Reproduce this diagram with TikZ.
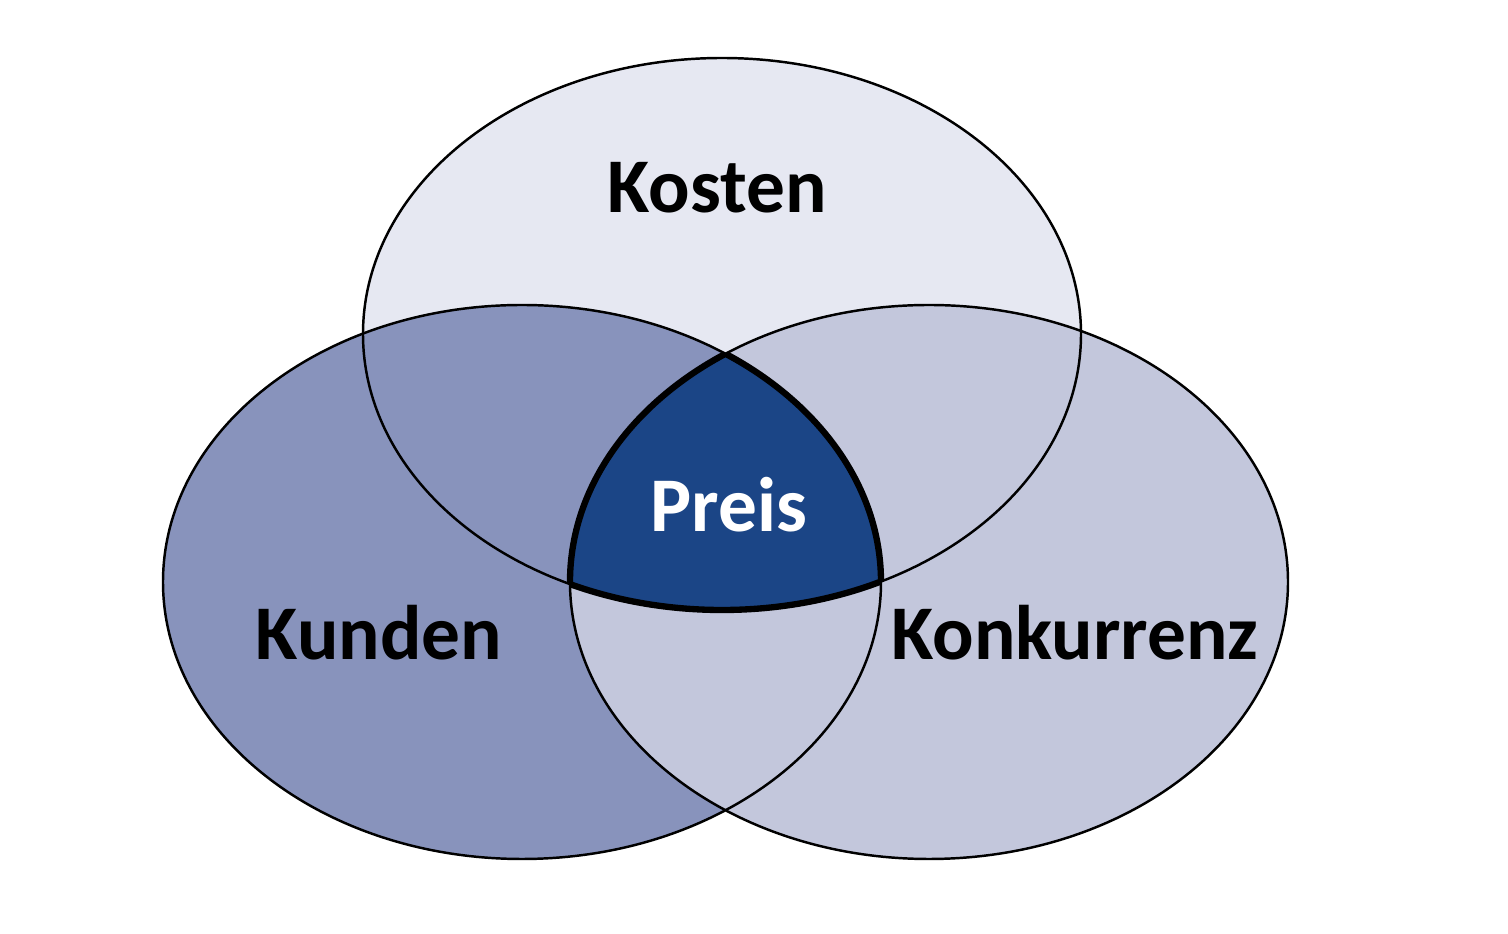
\documentclass[tikz,border=0pt]{standalone}
\usepackage{fontspec}
\setmainfont{Carlito}
\usetikzlibrary{positioning}
\definecolor{kostenfill}{HTML}{E6E8F2}
\definecolor{kundenfill}{HTML}{8893BC}
\definecolor{konkfill}{HTML}{C3C7DC}
\definecolor{preisfill}{HTML}{1B4586}
\begin{document}
\begin{tikzpicture}[x=0.01cm,y=-0.01cm,every node/.style={font=\fontsize{22}{26}\selectfont\bfseries}]
\useasboundingbox (0,0) rectangle (1508,934);
\coordinate (ck) at (722,334);
\coordinate (cl) at (522,582);
\coordinate (cr) at (929,582);
\def\ellK{(ck) ellipse [x radius=359,y radius=276]}
\def\ellL{(cl) ellipse [x radius=359,y radius=277]}
\def\ellR{(cr) ellipse [x radius=359,y radius=277]}
\fill[kostenfill] \ellK;
\fill[kundenfill] \ellL;
\fill[konkfill] \ellR;
\begin{scope}
\clip \ellK; \clip \ellL;
\fill[preisfill] \ellR;
\end{scope}
\draw[line width=.7pt] \ellK;
\draw[line width=.7pt] \ellL;
\draw[line width=.7pt] \ellR;
% bold edge round the middle
\begin{scope}
\clip \ellK; \clip \ellL;
\draw[line width=1.8pt] \ellR;
\end{scope}
\begin{scope}
\clip \ellK; \clip \ellR;
\draw[line width=1.8pt] \ellL;
\end{scope}
\begin{scope}
\clip \ellL; \clip \ellR;
\draw[line width=1.8pt] \ellK;
\end{scope}
\node (kosten) at (717,188) {Kosten};
\node[text=white] (preis) at (729,505) {Preis};
\node (kunden) at (379,633) {Kunden};
\node (konk) at (1075,633) {Konkurrenz};
\end{tikzpicture}
\end{document}
